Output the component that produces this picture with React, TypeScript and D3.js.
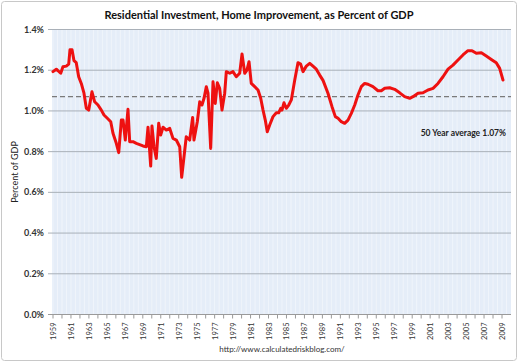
import * as d3 from 'd3'

// quarterly-ish readings, decimal year -> percent of GDP
const years = [
  1959.0, 1959.37, 1959.86, 1960.11, 1960.48, 1960.75, 1960.89, 1961.12, 1961.34, 1961.59,
  1961.86, 1962.15, 1962.45, 1962.71, 1962.98, 1963.34, 1963.64, 1964.01, 1964.38, 1964.68,
  1965.05, 1965.43, 1965.68, 1966.05, 1966.32, 1966.61, 1966.8, 1967.05, 1967.35, 1967.54,
  1967.91, 1968.28, 1969.02, 1969.39, 1969.58, 1969.88, 1970.02, 1970.25, 1970.5, 1970.77,
  1970.99, 1971.25, 1971.62, 1972.0, 1972.36, 1972.73, 1973.11, 1973.33, 1973.84, 1974.22,
  1974.55, 1974.7, 1975.07, 1975.34, 1975.59, 1975.82, 1976.07, 1976.26, 1976.56, 1976.82,
  1977.07, 1977.3, 1977.56, 1977.82, 1978.12, 1978.3, 1978.68, 1979.04, 1979.41, 1979.79,
  1980.05, 1980.35, 1980.6, 1980.83, 1981.08, 1981.46, 1981.83, 1982.13, 1982.39, 1982.64,
  1982.86, 1983.13, 1983.5, 1983.87, 1984.13, 1984.36, 1984.5, 1984.72, 1984.98, 1985.25,
  1985.54, 1985.92, 1986.28, 1986.58, 1986.84, 1987.21, 1987.59, 1987.95, 1988.32, 1988.7,
  1989.07, 1989.62, 1990.07, 1990.44, 1990.74, 1991.1, 1991.48, 1991.85, 1992.22, 1992.6,
  1992.96, 1993.33, 1993.71, 1994.08, 1994.63, 1995.19, 1995.56, 1995.94, 1996.49, 1997.05,
  1997.61, 1998.16, 1998.72, 1999.09, 1999.65, 2000.2, 2000.76, 2001.32, 2001.87, 2002.43,
  2002.99, 2003.54, 2004.1, 2004.65, 2005.21, 2005.66, 2006.14, 2006.7, 2007.25, 2007.81,
  2008.36, 2008.74, 2009.11,
]
const values = [
  1.193, 1.205, 1.185, 1.217, 1.22, 1.23, 1.3, 1.3, 1.247, 1.237,
  1.168, 1.135, 1.087, 1.013, 1.004, 1.094, 1.045, 1.029, 1.004, 0.98,
  0.964, 0.947, 0.89, 0.841, 0.795, 0.955, 0.955, 0.857, 1.008, 0.849,
  0.849, 0.841, 0.828, 0.824, 0.92, 0.729, 0.926, 0.824, 0.767, 0.939,
  0.882, 0.92, 0.906, 0.914, 0.865, 0.857, 0.824, 0.674, 0.873, 0.857,
  0.968, 0.857, 0.947, 1.045, 1.029, 1.062, 1.119, 1.087, 0.816, 1.143,
  1.037, 1.138, 1.111, 1.004, 1.087, 1.193, 1.185, 1.193, 1.168, 1.185,
  1.28, 1.185, 1.2, 1.242, 1.135, 1.119, 1.103, 1.062, 1.004, 0.955,
  0.898, 0.931, 0.972, 0.991, 0.991, 1.013, 1.004, 1.04, 1.013, 1.029,
  1.054, 1.152, 1.237, 1.23, 1.193, 1.22, 1.234, 1.22, 1.205, 1.176,
  1.15, 1.087, 1.021, 0.972, 0.964, 0.947, 0.939, 0.955, 0.988, 1.029,
  1.078, 1.119, 1.135, 1.131, 1.119, 1.099, 1.099, 1.111, 1.114, 1.106,
  1.089, 1.07, 1.062, 1.07, 1.087, 1.089, 1.103, 1.111, 1.135, 1.168,
  1.205, 1.225, 1.25, 1.275, 1.296, 1.296, 1.283, 1.286, 1.27, 1.253,
  1.237, 1.209, 1.152,
]
const yTicks = [0, 0.2, 0.4, 0.6, 0.8, 1.0, 1.2, 1.4]
const xLabels = d3.range(1959, 2010, 2)
const average = 1.07

const W = 518, H = 362
const plotL = 52, plotR = 511, plotT = 29.5, plotB = 314.5

export default function App() {
  const x = d3.scaleLinear().domain([1959, 2009]).range([53, 502])
  const y = d3.scaleLinear().domain([0, 1.4]).range([plotB, plotT])
  const pts = years.map((t, i) => [t, values[i]] as [number, number])
  const line = d3.line<[number, number]>().x(d => x(d[0])).y(d => y(d[1]))
  const vlines = d3.range(1959, 2010, 0.5)
  const font = 'Lato, "Open Sans", sans-serif'

  return (
    <svg width={W} height={H} style={{ position: 'absolute', left: 0, top: 0, background: '#fff' }} fontFamily={font}>
      <rect x={1.5} y={1.5} width={W - 3} height={H - 3} rx={3} fill="#fff" stroke="#c8c8c8" />
      <text x={259} y={19} textAnchor="middle" fontSize={11} fontWeight="bold" fill="#111">
        Residential Investment, Home Improvement, as Percent of GDP
      </text>

      <rect x={plotL} y={plotT} width={plotR - plotL} height={plotB - plotT} fill="#e5edf8" />
      {vlines.map(t => (
        <line key={t} x1={x(t)} x2={x(t)} y1={plotT} y2={plotB} stroke="#f3f6fb" strokeWidth={0.8} />
      ))}
      {yTicks.map(v => (
        <g key={v}>
          <line x1={plotL - 4} x2={plotR} y1={y(v)} y2={y(v)} stroke={v === 0 ? '#9a9a9a' : '#a9b0b8'} strokeWidth={1} />
          <text x={44} y={y(v) + 3} textAnchor="end" fontSize={9} fontWeight="bold" fill="#333">
            {v.toFixed(1)}%
          </text>
        </g>
      ))}
      <line x1={plotL} x2={plotR} y1={y(average)} y2={y(average)} stroke="#7a7a7a" strokeWidth={1.3} strokeDasharray="5,3" />

      {d3.range(1959, 2010, 1).map(t => (
        <line key={t} x1={x(t)} x2={x(t)} y1={plotB} y2={plotB + 4} stroke="#9a9a9a" />
      ))}
      {xLabels.map(t => (
        <text key={t} transform={`translate(${x(t) + 3},${plotB + 8}) rotate(-90)`} textAnchor="end" fontSize={7.5} fill="#333">
          {t}
        </text>
      ))}

      <path d={line(pts) ?? ''} fill="none" stroke="#ee1111" strokeWidth={3} strokeLinejoin="round" strokeLinecap="round" />

      <text x={506} y={136} textAnchor="end" fontSize={8.5} fontWeight="bold" fill="#222">
        50 Year average 1.07%
      </text>
      <text transform={`translate(18,${(plotT + plotB) / 2}) rotate(-90)`} textAnchor="middle" fontSize={9} fill="#222">
        Percent of GDP
      </text>
      <text x={282} y={352} textAnchor="middle" fontSize={8} fill="#333">
        http://www.calculatedriskblog.com/
      </text>
    </svg>
  )
}
